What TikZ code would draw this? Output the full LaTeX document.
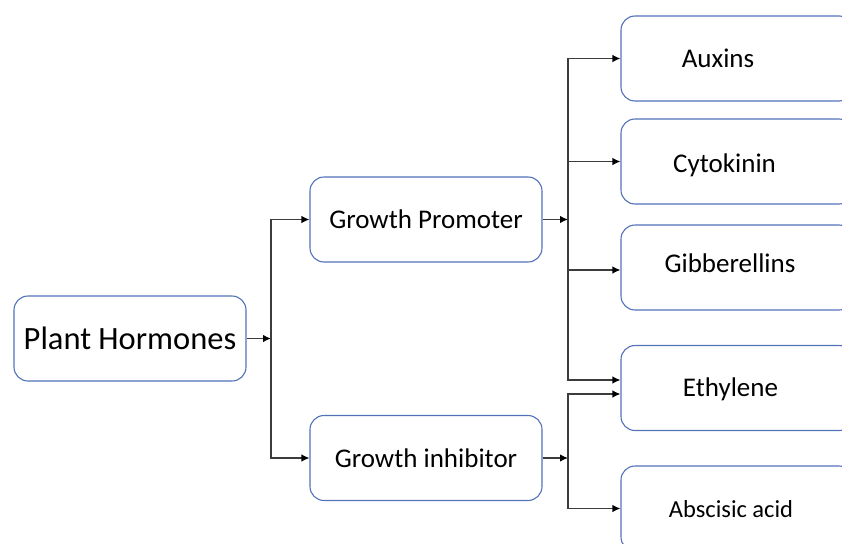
\documentclass[tikz,border=0pt]{standalone}
\usepackage{fontspec}
\setmainfont{Carlito}
\usetikzlibrary{arrows.meta}
\definecolor{boxblue}{RGB}{82,114,186}
\definecolor{wire}{RGB}{60,60,60}
\begin{document}
\begin{tikzpicture}[x=1pt,y=-1pt,
  box/.style={draw=boxblue, line width=1.1pt, rounded corners=14pt,
    minimum width=232pt, minimum height=85pt, inner sep=0pt, fill=white,
    font=\fontsize{27}{32}\selectfont},
  lbl/.style={font=\fontsize{27}{32}\selectfont, inner sep=0pt, anchor=base},
  link/.style={draw=wire, line width=1.3pt,
    -{Latex[length=8pt,width=7.5pt,color=black]}}]
\useasboundingbox (0,0) rectangle (842,543);
\clip (0,0) rectangle (842,543);

% left and middle boxes
\node[box, font=\fontsize{32.5}{38}\selectfont] (ph) at (130,338.5) {Plant Hormones};
\node[box] (gp) at (426,219.5) {Growth Promoter};
\node[box] (gi) at (426,458) {Growth inhibitor};

% right column boxes (run past the right edge)
\node[box] (aux) at (737,58.5)  {};
\node[box] (cyt) at (737,161.5) {};
\node[box] (gib) at (737,267.5) {};
\node[box] (eth) at (737,388)   {};
\node[box] (abs) at (737,508.5) {};

\node[lbl] (auxt) at (718,67)   {Auxins};
\node[lbl] (cytt) at (724.5,172) {Cytokinin};
\node[lbl] (gibt) at (730,272)  {Gibberellins};
\node[lbl] (etht) at (730.5,396) {Ethylene};
\node[lbl, font=\fontsize{24.5}{29}\selectfont] (abst) at (731,517) {Abscisic acid};

% junction points
\coordinate (j1) at (271,338.5);
\coordinate (j2) at (568,219.5);
\coordinate (j3) at (568,458);

% connectors
\draw[link] (ph.east) -- (j1);
\draw[link] (j1) |- (gp.west);
\draw[link] (j1) |- (gi.west);

\draw[link] (gp.east) -- (j2);
\draw[link] (gi.east) -- (j3);

\draw[link] (j2) |- (aux.west);
\draw[link] (j2) |- (cyt.west);
\draw[link] (j2) |- ([yshift=-2.5pt]gib.west);
\draw[link] (j2) |- ([yshift=8pt]eth.west);
\draw[link] (j3) |- ([yshift=-6pt]eth.west);
\draw[link] (j3) |- (abs.west);
\end{tikzpicture}
\end{document}
